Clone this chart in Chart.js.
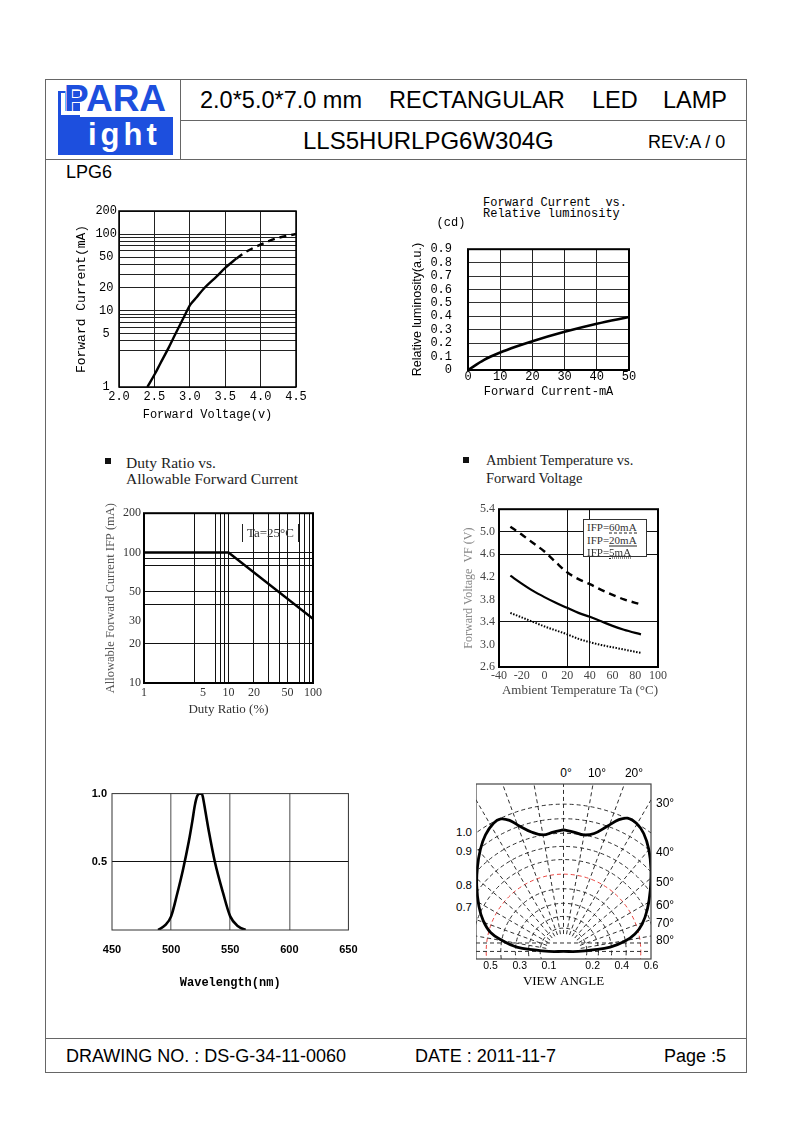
<!DOCTYPE html>
<html>
<head>
<meta charset="utf-8">
<title>LLS5HURLPG6W304G</title>
<script src="https://cdn.jsdelivr.net/npm/chart.js@4.4.1/dist/chart.umd.min.js"></script>
<style>
body { margin: 0; background: #fff; }
#page { position: relative; width: 793px; height: 1123px; overflow: hidden; background: #fff; font-family: "Liberation Sans", Arial, sans-serif; color: #000; }
.rule { position: absolute; background: #666; }
.txt { position: absolute; white-space: pre; line-height: 1; z-index: 2; }
.blk { position: absolute; }
#page canvas { position: absolute; }
</style>
</head>
<body>
<div id="page"></div>
<script>
// Forward voltage vs forward current (solid part, dashed extension)
const ivVoltage = [2.40, 2.51, 2.58, 2.70, 2.77, 2.91, 3.01, 3.10, 3.19, 3.38, 3.50, 3.66]
const ivCurrent = [1.0, 1.5, 2.0, 3.25, 4.4, 8.0, 12, 15, 19, 28, 36, 48]
const ivVoltageExt = [3.66, 3.80, 3.99, 4.23, 4.50]
const ivCurrentExt = [48, 59, 72, 88, 100]
const ivVoltTicks = [2.0, 2.5, 3.0, 3.5, 4.0, 4.5]
const ivCurrGrid = [1, 3, 4, 5, 6, 7, 8, 9, 10, 20, 30, 40, 50, 60, 70, 80, 90, 100, 200]
const ivCurrLabels = [1, 5, 10, 20, 50, 100, 200]

// Forward current vs relative luminosity
const lumCurrent = [0, 5, 10, 15, 20, 30, 40, 50]
const lumValue = [0, 0.075, 0.13, 0.175, 0.215, 0.285, 0.345, 0.395]
const lumXTicks = [0, 10, 20, 30, 40, 50]
const lumYTicks = [0, 0.1, 0.2, 0.3, 0.4, 0.5, 0.6, 0.7, 0.8, 0.9]

// Duty ratio vs allowable forward current
const dutyRatio = [1, 10, 100]
const dutyCurrent = [100, 100, 31]
const dutyXTicks = [1, 4, 5, 7, 8, 9, 10, 20, 30, 40, 50, 70, 80, 90, 100]
const dutyXGrid = [4, 7, 8, 9, 10, 20, 30, 40, 50, 70, 80, 90]
const dutyXLabels = [1, 5, 10, 20, 50, 100]
const dutyYTicks = [10, 20, 30, 40, 50, 80, 90, 100, 200]
const dutyYGrid = [20, 40, 50, 80, 90, 100]
const dutyYLabels = [10, 20, 30, 50, 100, 200]

// Ambient temperature vs forward voltage
const tempC = [-30, -20, -10, 0, 10, 20, 30, 40, 50, 60, 70, 85]
const vf60mA = [5.09, 4.95, 4.80, 4.65, 4.46, 4.28, 4.16, 4.07, 3.97, 3.88, 3.80, 3.71]
const vf20mA = [4.22, 4.08, 3.95, 3.84, 3.74, 3.65, 3.56, 3.49, 3.41, 3.33, 3.26, 3.18]
const vf5mA = [3.56, 3.48, 3.40, 3.32, 3.25, 3.18, 3.10, 3.04, 2.99, 2.95, 2.91, 2.85]
const tempTicks = [-40, -20, 0, 20, 40, 60, 80, 100]
const tempGrid = [20, 40]
const vfTicks = [2.6, 3.0, 3.4, 3.8, 4.2, 4.6, 5.0, 5.4]
const vfGrid = [3.4, 4.6, 5.0]

// Spectrum
const wavelength = [489, 495, 500, 505, 510, 515, 518, 520, 522, 524, 526, 527, 529, 532, 537, 544, 550, 557, 563]
const spectrum = [0, 0.035, 0.10, 0.26, 0.44, 0.65, 0.80, 0.91, 0.98, 1.0, 1.0, 0.97, 0.87, 0.72, 0.50, 0.27, 0.10, 0.025, 0]
const waveTicks = [450, 500, 550, 600, 650]
const waveGrid = [500, 550, 600]
const specTicks = [0, 0.5, 1.0]

// Radiation pattern (view angle)
const polarX = [0, 0.07, 0.14, 0.21, 0.30, 0.38, 0.44, 0.50, 0.55, 0.585, 0.60, 0.595, 0.575, 0.54, 0.49, 0.42, 0.32, 0.20, 0.10, 0,
  -0.10, -0.20, -0.32, -0.42, -0.50, -0.55, -0.58, -0.595, -0.59, -0.57, -0.535, -0.48, -0.43, -0.37, -0.30, -0.22, -0.14, -0.07, 0]
const polarY = [0.835, 0.82, 0.80, 0.81, 0.86, 0.905, 0.915, 0.88, 0.81, 0.70, 0.56, 0.42, 0.29, 0.19, 0.12, 0.07, 0.03, 0.01, 0.0, 0.0,
  0.0, 0.01, 0.03, 0.075, 0.13, 0.21, 0.31, 0.45, 0.58, 0.70, 0.80, 0.88, 0.91, 0.90, 0.86, 0.82, 0.80, 0.82, 0.835]
const polarTicks = [-0.5, -0.3, -0.1, 0.2, 0.4, 0.6]
const polarArcs = [0.16, 0.24, 0.33, 0.43, 0.53, 0.63, 0.72, 0.81, 0.91, 1.01]
const polarRedArc = 0.53
const polarSpokes = [0, 10, 20, 30, 40, 50, 60, 70, 80]
const polarFlat = [0, 0.058]

const MONO = '"Liberation Mono", "DejaVu Sans Mono", monospace'
const SERIF = '"Liberation Serif", "DejaVu Serif", serif'
const SANS = '"Liberation Sans", Arial, sans-serif'

const page = document.getElementById('page')

function rule(x, y, w, h) {
    let d = document.createElement('div')
    d.className = 'rule'
    Object.assign(d.style, { left: x + 'px', top: y + 'px', width: w + 'px', height: h + 'px' })
    page.appendChild(d)
    return d
}

function block(x, y, w, h, bg) {
    let d = document.createElement('div')
    d.className = 'blk'
    Object.assign(d.style, { left: x + 'px', top: y + 'px', width: w + 'px', height: h + 'px', background: bg })
    page.appendChild(d)
    return d
}

function label(str, x, y, size, opt = {}) {
    let d = document.createElement('div')
    d.className = 'txt'
    d.textContent = str
    d.style.left = x + 'px'
    d.style.top = y + 'px'
    d.style.fontSize = size + 'px'
    if (opt.font) d.style.fontFamily = opt.font
    if (opt.weight) d.style.fontWeight = opt.weight
    if (opt.color) d.style.color = opt.color
    let ax = opt.align == 'center' ? '-50%' : opt.align == 'right' ? '-100%' : '0'
    d.style.transform = 'translate(' + ax + ',-50%)'
    page.appendChild(d)
    return d
}

function makeCanvas(x, y, w, h) {
    let c = document.createElement('canvas')
    c.width = w
    c.height = h
    Object.assign(c.style, { left: x + 'px', top: y + 'px', width: w + 'px', height: h + 'px' })
    page.appendChild(c)
    return c.getContext('2d')
}

function pairs(xs, ys) {
    return xs.map((x, i) => ({ x: x, y: ys[i] }))
}

const framePlugin = {
    id: 'frame',
    afterDraw(chart, args, opts) {
        let a = chart.chartArea, ctx = chart.ctx
        ctx.save()
        ctx.strokeStyle = opts.color || '#000'
        ctx.lineWidth = opts.width || 1
        ctx.strokeRect(a.left, a.top, a.right - a.left, a.bottom - a.top)
        ctx.restore()
    }
}

const polarGridPlugin = {
    id: 'polarGrid',
    beforeDatasetsDraw(chart) {
        let ctx = chart.ctx, a = chart.chartArea
        let xs = chart.scales.x, ys = chart.scales.y
        let cx = xs.getPixelForValue(0), cy = ys.getPixelForValue(0)
        let unit = xs.getPixelForValue(1) - cx
        ctx.save()
        ctx.beginPath()
        ctx.rect(a.left, a.top, a.right - a.left, a.bottom - a.top)
        ctx.clip()
        ctx.lineWidth = 0.9
        ctx.setLineDash([4, 3])
        polarArcs.forEach(r => {
            ctx.strokeStyle = r == polarRedArc ? '#e8322d' : '#1a1a1a'
            ctx.beginPath()
            ctx.arc(cx, cy, r * unit, 0, Math.PI * 2)
            ctx.stroke()
        })
        ctx.strokeStyle = '#1a1a1a'
        polarSpokes.forEach(deg => {
            [1, -1].forEach(side => {
                if (deg == 0 && side < 0) return
                let t = side * deg * Math.PI / 180
                ctx.beginPath()
                ctx.moveTo(cx + Math.sin(t) * 0.12 * unit, cy - Math.cos(t) * 0.12 * unit)
                ctx.lineTo(cx + Math.sin(t) * 1.6 * unit, cy - Math.cos(t) * 1.6 * unit)
                ctx.stroke()
            })
        })
        polarFlat.forEach(v => {
            let py = ys.getPixelForValue(v)
            ctx.beginPath()
            ctx.moveTo(a.left, py)
            ctx.lineTo(a.right, py)
            ctx.stroke()
        })
        ctx.restore()
    }
}

function axis(kind, o) {
    return {
        type: o.type || 'linear',
        min: o.min,
        max: o.max,
        display: o.display !== false,
        afterBuildTicks: s => { s.ticks = o.ticks.map(v => ({ value: v })) },
        afterFit: s => { if (kind == 'x') s.height = o.size; else s.width = o.size },
        grid: {
            color: ctx => (ctx.tick && o.grid.includes(ctx.tick.value)) ? (o.gridColor || '#222') : 'rgba(0,0,0,0)',
            lineWidth: o.gridWidth || 1,
            drawTicks: false
        },
        border: { display: false },
        ticks: {
            autoSkip: false,
            maxRotation: 0,
            padding: o.pad,
            font: o.font,
            color: o.color || '#000',
            callback: o.label,
            crossAlign: o.crossAlign || 'near'
        },
        title: o.title ? {
            display: true,
            text: o.title,
            font: o.titleFont,
            color: o.titleColor || '#000',
            padding: o.titlePad,
            align: o.titleAlign || 'center'
        } : { display: false }
    }
}

function baseOptions(top, right, frame, scales) {
    return {
        responsive: false,
        animation: false,
        events: [],
        layout: { padding: { top: top, right: right, left: 0, bottom: 0 } },
        plugins: { legend: { display: false }, tooltip: { enabled: false }, frame: frame },
        scales: scales
    }
}

function lineSet(points, width, dash, extra) {
    return Object.assign({
        data: points,
        showLine: true,
        borderColor: '#000',
        borderWidth: width,
        borderDash: dash || [],
        pointRadius: 0,
        tension: 0.4,
        cubicInterpolationMode: 'monotone'
    }, extra || {})
}

// ---------- page frame and header ----------
rule(45, 79, 702, 1)
rule(45, 79, 1, 994)
rule(746, 79, 1, 994)
rule(180, 79, 1, 81)
rule(180, 120, 567, 1)
rule(45, 159, 702, 1)
rule(45, 1038, 702, 1)
rule(45, 1072, 702, 1)

const BLUE = '#1d4fde'
block(58, 117, 115, 38, BLUE)
block(58, 91, 22, 27, BLUE)
block(61, 93, 4, 22, '#fff')
block(61, 111, 19, 4, '#fff')
let para = label('PARA', 64, 98, 37, { weight: 'bold', color: BLUE })
para.style.webkitTextStroke = '2px #fff'
para.style.paintOrder = 'stroke fill'
let ight = label('ight', 88, 134, 31, { weight: 'bold', color: '#fff' })
ight.style.letterSpacing = '4px'

label('2.0*5.0*7.0 mm', 200, 101, 23.5)
label('RECTANGULAR', 389, 101, 23.5)
label('LED', 592, 101, 23.5)
label('LAMP', 663, 101, 23.5)
label('LLS5HURLPG6W304G', 303, 141, 24)
label('REV:A / 0', 648, 142, 18)
label('LPG6', 66, 172, 18)

label('DRAWING NO. : DS-G-34-11-0060', 66, 1056, 18)
label('DATE : 2011-11-7', 415, 1056, 18)
label('Page :5', 664, 1056, 18)

// ---------- Forward current vs forward voltage ----------
new Chart(makeCanvas(63, 200, 249, 229), {
    type: 'scatter',
    data: { datasets: [
        lineSet(pairs(ivVoltage, ivCurrent), 2.4),
        lineSet(pairs(ivVoltageExt, ivCurrentExt), 2.4, [7, 5])
    ] },
    options: baseOptions(11, 16, { width: 1.5 }, {
        x: axis('x', { min: 2.0, max: 4.5, ticks: ivVoltTicks, grid: ivVoltTicks, size: 42, pad: 3,
            font: { family: MONO, size: 12 }, label: v => v.toFixed(1),
            title: 'Forward Voltage(v)', titleFont: { family: MONO, size: 12 }, titlePad: { top: 0, bottom: 6.8 } }),
        y: axis('y', { type: 'logarithmic', min: 1, max: 200, ticks: ivCurrGrid, grid: ivCurrGrid, size: 56, pad: 2,
            crossAlign: 'center', font: { family: MONO, size: 12 },
            label: v => ivCurrLabels.includes(v) ? String(v) : '',
            title: 'Forward Current(mA)', titleFont: { family: MONO, size: 13 }, titlePad: { top: 10.9, bottom: 0 } })
    }),
    plugins: [framePlugin]
})

// ---------- Forward current vs relative luminosity ----------
new Chart(makeCanvas(405, 226, 236, 176), {
    type: 'scatter',
    data: { datasets: [lineSet(pairs(lumCurrent, lumValue), 2.6)] },
    options: baseOptions(11, 12, { width: 2 }, {
        x: axis('x', { min: 0, max: 50, ticks: lumXTicks, grid: lumXTicks, size: 32, pad: 0,
            font: { family: MONO, size: 12 }, label: v => String(v),
            title: 'Forward Current-mA', titleFont: { family: MONO, size: 12 }, titlePad: { top: 0, bottom: 2.5 } }),
        y: axis('y', { min: 0, max: 0.9, ticks: lumYTicks, grid: lumYTicks, gridColor: '#333', size: 63, pad: 16,
            font: { family: MONO, size: 12 }, label: v => v == 0 ? '0' : v.toFixed(1),
            title: 'Relative luminosity(a.u.)', titleFont: { family: SANS, size: 12.5 }, titlePad: { top: 5.5, bottom: 0 } })
    }),
    plugins: [framePlugin]
})
label('Forward Current  vs.', 483, 203, 12, { font: MONO })
label('Relative luminosity', 483, 214, 12, { font: MONO })
label('(cd)', 451, 223, 12, { font: MONO, align: 'center' })

// ---------- Duty ratio vs allowable forward current ----------
new Chart(makeCanvas(100, 503, 227, 216), {
    type: 'scatter',
    data: { datasets: [lineSet(pairs(dutyRatio, dutyCurrent), 2.4, [], { tension: 0, cubicInterpolationMode: 'default' })] },
    options: baseOptions(10, 14, { width: 2 }, {
        x: axis('x', { type: 'logarithmic', min: 1, max: 100, ticks: dutyXTicks, grid: dutyXGrid, gridColor: '#111', size: 36, pad: 2.8,
            font: { family: SERIF, size: 12 }, color: '#333', label: v => dutyXLabels.includes(v) ? String(v) : '',
            title: 'Duty Ratio (%)', titleFont: { family: SERIF, size: 13 }, titleColor: '#333', titlePad: { top: 0, bottom: 1.9 } }),
        y: axis('y', { type: 'logarithmic', min: 10, max: 200, ticks: dutyYTicks, grid: dutyYGrid, gridColor: '#111', size: 44, pad: 3,
            font: { family: SERIF, size: 12 }, color: '#333', label: v => dutyYLabels.includes(v) ? String(v) : '',
            title: 'Allowable Forward Current IFP (mA)', titleFont: { family: SERIF, size: 12.5 }, titleColor: '#555', titlePad: { top: 3.2, bottom: 0 } })
    }),
    plugins: [framePlugin]
})
block(105, 458, 6, 6, '#111')
label('Duty Ratio vs.', 126, 463, 15.5, { font: SERIF, color: '#222' })
label('Allowable Forward Current', 126, 479, 15.5, { font: SERIF, color: '#222' })
let ta = label('Ta=25\u00b0C', 242, 533, 13, { font: SERIF, color: '#333' })
Object.assign(ta.style, { width: '57px', height: '18px', lineHeight: '18px', textAlign: 'center', borderLeft: '1px solid #222', borderRight: '1px solid #222', boxSizing: 'border-box', transform: 'translate(0,-50%)' })

// ---------- Ambient temperature vs forward voltage ----------
new Chart(makeCanvas(455, 498, 219, 202), {
    type: 'scatter',
    data: { datasets: [
        lineSet(pairs(tempC, vf60mA), 2.4, [7, 5]),
        lineSet(pairs(tempC, vf20mA), 2.2),
        lineSet(pairs(tempC, vf5mA), 2, [1.5, 1.5])
    ] },
    options: baseOptions(10, 16, { width: 2 }, {
        x: axis('x', { min: -40, max: 100, ticks: tempTicks, grid: tempGrid, gridColor: '#111', size: 33, pad: 1.8,
            font: { family: SERIF, size: 12 }, color: '#444', label: v => String(v),
            title: 'Ambient Temperature Ta (\u00b0C)', titleFont: { family: SERIF, size: 13 }, titleColor: '#444',
            titlePad: { top: 0, bottom: 1.2 }, titleAlign: 'end' }),
        y: axis('y', { min: 2.6, max: 5.4, ticks: vfTicks, grid: vfGrid, gridColor: '#111', size: 44, pad: 4,
            font: { family: SERIF, size: 12 }, color: '#444', label: v => v.toFixed(1),
            title: 'Forward Voltage  VF (V)', titleFont: { family: SERIF, size: 12 }, titleColor: '#888', titlePad: { top: 6.8, bottom: 0 } })
    }),
    plugins: [framePlugin]
})
block(463, 457, 6, 6, '#111')
label('Ambient Temperature vs.', 486, 460, 14.5, { font: SERIF, color: '#222' })
label('Forward Voltage', 486, 478, 14.5, { font: SERIF, color: '#222' })
let legendBox = block(583, 519, 64, 38, '#fff')
Object.assign(legendBox.style, { border: '1px solid #333', boxSizing: 'border-box', zIndex: 2 })
const legendRows = [['60mA', 'dashed', 527], ['20mA', 'solid', 540], ['5mA', 'dotted', 552]]
legendRows.forEach(r => {
    let d = label('IFP=', 587, r[2], 11, { font: SERIF, color: '#333' })
    let s = document.createElement('span')
    s.textContent = r[0]
    s.style.borderBottom = '1.5px ' + r[1] + ' #222'
    d.appendChild(s)
})

// ---------- Spectrum ----------
new Chart(makeCanvas(85, 782, 286, 210), {
    type: 'scatter',
    data: { datasets: [lineSet(pairs(wavelength, spectrum), 2.6)] },
    options: baseOptions(10, 14, { width: 1, color: '#333' }, {
        x: axis('x', { min: 450, max: 650, ticks: waveTicks, grid: waveGrid, gridColor: '#888', gridWidth: 1.5, size: 62, pad: 13.4,
            font: { family: SANS, size: 11, weight: 'bold' }, label: v => String(v),
            title: 'Wavelength(nm)', titleFont: { family: MONO, size: 12, weight: 'bold' }, titlePad: { top: 0, bottom: 1.8 } }),
        y: axis('y', { min: 0, max: 1, ticks: specTicks, grid: [0.5], gridColor: '#111', size: 27, pad: 5,
            font: { family: SANS, size: 11, weight: 'bold' }, label: v => v == 0 ? '' : v.toFixed(1) })
    }),
    plugins: [framePlugin]
})

// ---------- View angle ----------
new Chart(makeCanvas(476, 780, 189, 212), {
    type: 'scatter',
    data: { datasets: [lineSet(pairs(polarX, polarY), 2.8, [], { cubicInterpolationMode: 'default' })] },
    options: baseOptions(4, 14, { width: 1.2, color: '#444' }, {
        x: axis('x', { min: -0.6, max: 0.6, ticks: polarTicks, grid: [], size: 33, pad: 1,
            font: { family: SANS, size: 10.5 }, label: v => Math.abs(v).toFixed(1),
            title: 'VIEW ANGLE', titleFont: { family: SERIF, size: 13 }, titlePad: { top: 0, bottom: 2.2 } }),
        y: { type: 'linear', min: -0.052, max: 1.15, display: false }
    }),
    plugins: [polarGridPlugin, framePlugin]
})
label('0\u00b0', 566, 773, 12, { align: 'center' })
label('10\u00b0', 597, 773, 12, { align: 'center' })
label('20\u00b0', 634, 773, 12, { align: 'center' })
const sideAngles = [['30\u00b0', 803], ['40\u00b0', 852], ['50\u00b0', 882], ['60\u00b0', 905], ['70\u00b0', 923], ['80\u00b0', 940]]
sideAngles.forEach(a => label(a[0], 656, a[1], 12))
const sideLevels = [['1.0', 833], ['0.9', 852], ['0.8', 886], ['0.7', 908]]
sideLevels.forEach(a => label(a[0], 472, a[1], 11.5, { align: 'right' }))
</script>
</body>
</html>
